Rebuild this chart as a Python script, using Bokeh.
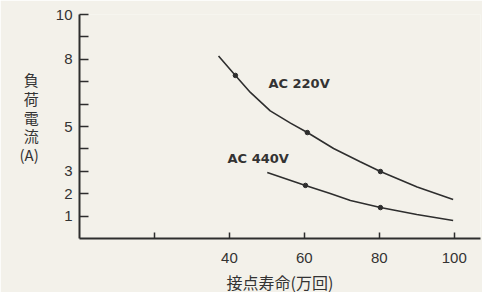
from bokeh.plotting import figure
from bokeh.models import Range1d, FixedTicker, Label
from bokeh.embed import file_html
from bokeh.resources import INLINE

# ---- data ----
ac220_x = [37.1, 41.6, 45.6, 50.9, 56.3, 60.8, 67.8, 74.9, 80.3, 90.1, 99.7]
ac220_y = [8.15, 7.28, 6.52, 5.70, 5.15, 4.73, 4.02, 3.43, 2.99, 2.30, 1.74]
ac220_mx = [41.6, 60.8, 80.3]
ac220_my = [7.28, 4.73, 2.99]

ac440_x = [50.1, 60.3, 66.9, 72.3, 80.3, 90.0, 99.7]
ac440_y = [2.95, 2.37, 2.01, 1.70, 1.38, 1.07, 0.80]
ac440_mx = [60.3, 80.3]
ac440_my = [2.37, 1.38]

x_ticks = [20, 40, 60, 80, 100]
x_tick_labels = {20: "", 40: "40", 60: "60", 80: "80", 100: "100"}
y_ticks = [1, 2, 3, 4, 5, 6, 7, 8, 9, 10]
y_tick_labels = {1: "1", 2: "2", 3: "3", 4: "", 5: "5", 6: "", 7: "", 8: "8", 9: "", 10: "10"}
y_title = "負\n荷\n電\n流\n(A)\n "
x_title = "接点寿命(万回)"
series_names = ["AC 220V", "AC 440V"]

BG = "#f3f1ea"
INK = "#2e2e2e"
CJK = "Noto Sans CJK JP"

p = figure(frame_width=401, frame_height=224, min_border_left=79, min_border_top=14,
           min_border_right=2, min_border_bottom=40,
           x_range=Range1d(0, 107), y_range=Range1d(0, 10),
           output_backend="svg", toolbar_location=None)
p.background_fill_color = BG
p.border_fill_color = BG
p.outline_line_color = None
p.xgrid.grid_line_color = None
p.ygrid.grid_line_color = None

for ax in (p.xaxis[0], p.yaxis[0]):
    ax.axis_line_color = INK
    ax.axis_line_width = 2
    ax.major_tick_line_color = INK
    ax.major_tick_line_width = 1.5
    ax.major_tick_out = 0
    ax.minor_tick_line_color = None
    ax.major_label_text_color = "#333333"
    ax.major_label_text_font = "Liberation Sans"
    ax.major_label_text_font_size = "15px"

p.xaxis.ticker = FixedTicker(ticks=x_ticks)
p.xaxis.major_label_overrides = x_tick_labels
p.xaxis.major_tick_in = 6
p.xaxis.major_label_standoff = 14
p.xaxis.axis_label = x_title
p.xaxis.axis_label_text_font = CJK
p.xaxis.axis_label_text_font_style = "normal"
p.xaxis.axis_label_text_font_size = "16px"
p.xaxis.axis_label_text_color = "#333333"
p.xaxis.axis_label_standoff = 4

p.yaxis.ticker = FixedTicker(ticks=y_ticks)
p.yaxis.major_label_overrides = y_tick_labels
p.yaxis.major_tick_in = 9
p.yaxis.major_label_standoff = 7
p.yaxis.axis_label = y_title
p.yaxis.axis_label_orientation = "horizontal"
p.yaxis.axis_label_text_font = CJK
p.yaxis.axis_label_text_font_style = "normal"
p.yaxis.axis_label_text_font_size = "15px"
p.yaxis.axis_label_text_color = "#333333"
p.yaxis.axis_label_text_line_height = 0.9
p.yaxis.axis_label_standoff = 14

p.line(ac220_x, ac220_y, line_color=INK, line_width=1.6)
p.scatter(ac220_mx, ac220_my, size=4.5, color=INK)
p.line(ac440_x, ac440_y, line_color=INK, line_width=1.6)
p.scatter(ac440_mx, ac440_my, size=4.5, color=INK)

p.add_layout(Label(x=50.4, y=6.92, text=series_names[0], text_font="DejaVu Sans",
                   text_font_style="bold", text_font_size="13px", text_color="#333333",
                   text_baseline="middle"))
p.add_layout(Label(x=39.5, y=3.57, text=series_names[1], text_font="DejaVu Sans",
                   text_font_style="bold", text_font_size="13px", text_color="#333333",
                   text_baseline="middle"))

html = file_html(p, INLINE)
html = html.replace("<body>", '<body style="background:%s">' % BG, 1)
open("out.html", "w").write(html)
